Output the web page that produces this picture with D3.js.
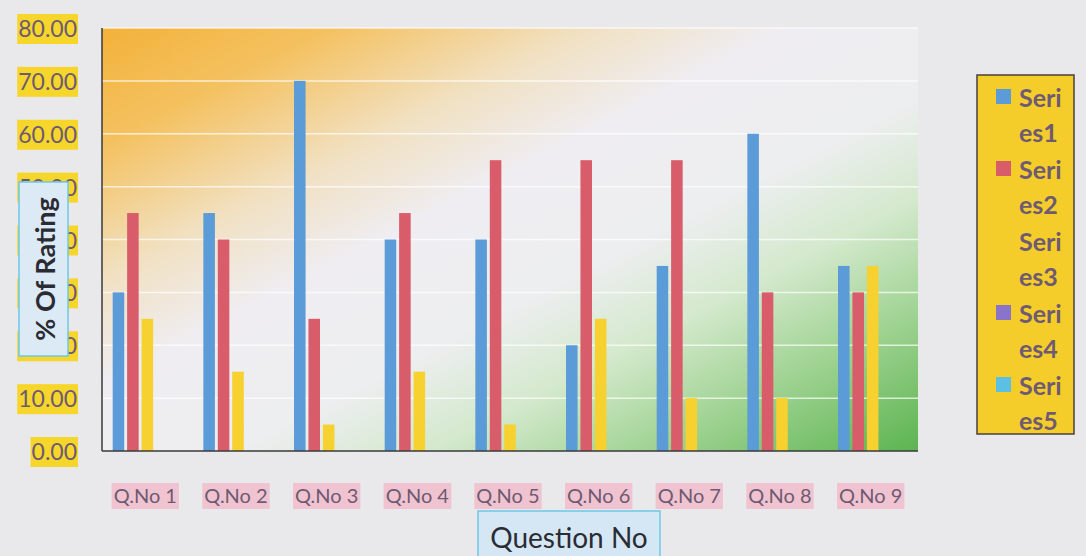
<!DOCTYPE html>
<html><head><meta charset="utf-8">
<script src="https://cdn.jsdelivr.net/npm/d3@7"></script>
<style>html,body{margin:0;padding:0;background:#e9e8ea;}svg{display:block;}</style>
</head><body>
<svg id="c" width="1086" height="556"></svg>
<script>
const categories = ["Q.No 1","Q.No 2","Q.No 3","Q.No 4","Q.No 5","Q.No 6","Q.No 7","Q.No 8","Q.No 9"];
const seriesNames = ["Series1","Series2","Series3","Series4","Series5"];
const series1 = [30,45,70,40,40,20,35,60,35];
const series2 = [45,40,25,45,55,55,55,30,30];
const series3 = [25,15,5,15,5,25,10,10,35];
const series4 = [0,0,0,0,0,0,0,0,0];
const series5 = [0,0,0,0,0,0,0,0,0];
const yTicks = [0,10,20,30,40,50,60,70,80];
const seriesColors = ["#5b9bd8","#d95c6b","#f6d12f","#8a74c9","#5bc0e3"];

const svg = d3.select("#c");
const font = "Lato, 'Open Sans', sans-serif";
const L = 102, R = 918, T = 28, B = 451;

// background gradient
const defs = svg.append("defs");
const g1 = defs.append("linearGradient").attr("id","bg").attr("x1","0").attr("y1","0").attr("x2","1").attr("y2","1");
[[0,"#f3b23a"],[0.14,"#f4c160"],[0.3,"#f1e1c3"],[0.42,"#efedf1"],[0.58,"#edeef0"],[0.7,"#d4e9cd"],[0.84,"#9dd290"],[1,"#5cb450"]]
  .forEach(([o,c])=>g1.append("stop").attr("offset",o).attr("stop-color",c));
svg.append("rect").attr("x",L).attr("y",T).attr("width",R-L).attr("height",B-T).attr("fill","url(#bg)");

const y = d3.scaleLinear().domain([0,80]).range([B,T]);
const x0 = d3.scaleBand().domain(categories).range([L,R]).padding(0);
const x1 = d3.scaleBand().domain(seriesNames).range([0,x0.bandwidth()]).paddingInner(0.2).paddingOuter(0.74);

// gridlines
svg.append("g").selectAll("line").data(yTicks.filter(d=>d>0)).join("line")
  .attr("x1",L).attr("x2",R).attr("y1",d=>y(d)).attr("y2",d=>y(d))
  .attr("stroke","#ffffff").attr("stroke-opacity",0.7).attr("stroke-width",1.5);

// bars
const allSeries = [series1,series2,series3,series4,series5];
const bars = [];
categories.forEach((c,i)=>allSeries.forEach((s,j)=>bars.push({c, s:seriesNames[j], v:s[i], col:seriesColors[j]})));
svg.append("g").selectAll("rect").data(bars.filter(d=>d.v>0)).join("rect")
  .attr("x",d=>x0(d.c)+x1(d.s)).attr("width",x1.bandwidth())
  .attr("y",d=>y(d.v)).attr("height",d=>y(0)-y(d.v)).attr("fill",d=>d.col);

// axes lines
svg.append("line").attr("x1",L).attr("x2",L).attr("y1",T).attr("y2",B).attr("stroke","#3a3a3a").attr("stroke-width",1.5);
svg.append("line").attr("x1",L).attr("x2",R).attr("y1",B).attr("y2",B).attr("stroke","#3a3a3a").attr("stroke-width",1.5);

// y tick labels with yellow highlight
const yt = svg.append("g");
yTicks.forEach(t=>{
  const g = yt.append("g");
  const txt = g.append("text").attr("x",77).attr("y",y(t)).attr("text-anchor","end").attr("dominant-baseline","central")
    .attr("font-family",font).attr("font-size",23).attr("fill","#6e5a72").text(d3.format(".2f")(t));
  const bb = txt.node().getBBox();
  g.insert("rect","text").attr("x",bb.x-1).attr("y",bb.y).attr("width",bb.width+2).attr("height",bb.height+2).attr("fill","#f7d62c");
});

// y axis title
svg.append("rect").attr("x",19).attr("y",182).attr("width",49).attr("height",174).attr("fill","#dbeaf4").attr("stroke","#6cc8e6").attr("stroke-width",1.5);
svg.append("text").attr("transform","translate(44,269) rotate(-90)").attr("text-anchor","middle").attr("dominant-baseline","central")
  .attr("font-family",font).attr("font-weight","bold").attr("font-size",27).attr("fill","#2b2b33").text("% Of Rating");

// x tick labels with pink highlight
const xt = svg.append("g");
categories.forEach(c=>{
  const g = xt.append("g");
  const txt = g.append("text").attr("x",x0(c)+x0.bandwidth()/2-2).attr("y",495).attr("text-anchor","middle").attr("dominant-baseline","central")
    .attr("font-family",font).attr("font-size",20).attr("fill","#6e5a72").text(c);
  const bb = txt.node().getBBox();
  g.insert("rect","text").attr("x",bb.x-2).attr("y",bb.y).attr("width",bb.width+4).attr("height",bb.height+2).attr("fill","#f0c3d0");
});

// x axis title
svg.append("rect").attr("x",478).attr("y",511).attr("width",182).attr("height",60).attr("fill","#d5e7f4").attr("stroke","#6cc8e6").attr("stroke-width",1.5);
svg.append("text").attr("x",569).attr("y",537).attr("text-anchor","middle").attr("dominant-baseline","central")
  .attr("font-family",font).attr("font-size",28).attr("fill","#2b2b33").text("Question No");

// legend
svg.append("rect").attr("x",977).attr("y",75).attr("width",97).attr("height",359).attr("fill","#f5cd2b").attr("stroke","#4a3e3e").attr("stroke-width",1.5);
const lg = svg.append("g");
seriesNames.forEach((s,i)=>{
  const yy = 97 + i*72;
  if (i !== 2) lg.append("rect").attr("x",996).attr("y",yy-8).attr("width",15).attr("height",15).attr("fill",seriesColors[i]);
  lg.append("text").attr("x",1019).attr("y",yy).attr("dominant-baseline","central").attr("font-family",font).attr("font-weight","bold")
    .attr("font-size",25).attr("fill","#6e5a72").text(s.slice(0,4));
  lg.append("text").attr("x",1019).attr("y",yy+35).attr("dominant-baseline","central").attr("font-family",font).attr("font-weight","bold")
    .attr("font-size",25).attr("fill","#6e5a72").text(s.slice(4));
});
</script>
</body></html>
